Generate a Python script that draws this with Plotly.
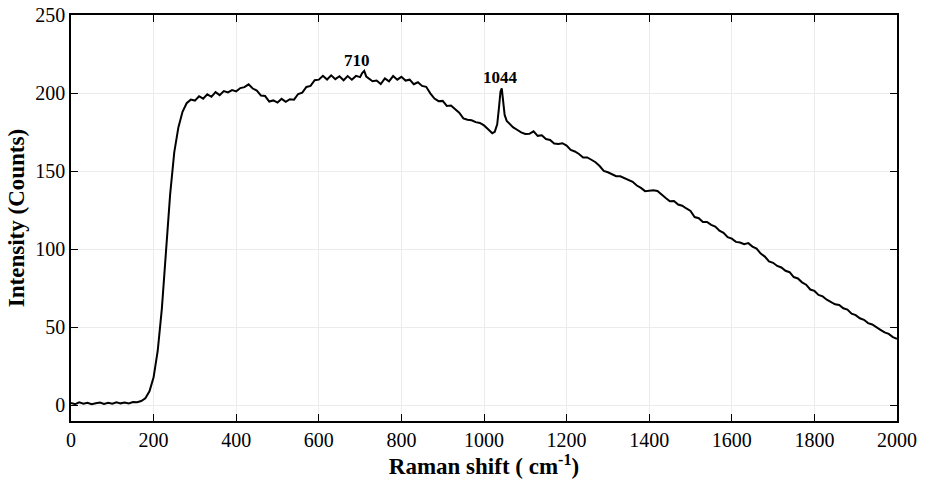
import plotly.graph_objects as go

raman_shift = [0, 10, 20, 30, 40, 50, 60, 70, 80, 90, 100, 110, 120, 130, 140, 150, 160, 170,
               180, 190, 200, 210, 220, 230, 240, 250, 260, 270, 280, 290, 300, 310, 320, 330, 340,
               350, 360, 370, 380, 390, 400, 410, 420, 430, 440, 450, 460, 470, 480, 490, 500,
               510, 520, 530, 540, 550, 560, 570, 580, 590, 600, 610, 620, 630, 640, 650, 660,
               670, 680, 690, 700, 705, 710, 715, 720, 730, 740, 750, 760, 770, 780, 790, 800, 810,
               820, 830, 840, 850, 860, 870, 880, 890, 900, 910, 920, 930, 940, 950, 960, 970,
               980, 990, 1000, 1010, 1020, 1026, 1032, 1036, 1040, 1043, 1046, 1050, 1055, 1060,
               1070, 1080, 1090, 1100, 1110, 1120, 1130, 1140, 1150, 1160, 1170, 1180, 1190,
               1200, 1210, 1220, 1230, 1240, 1250, 1260, 1270, 1280, 1290, 1300, 1310, 1320,
               1330, 1340, 1350, 1360, 1370, 1380, 1390, 1400, 1410, 1420, 1430, 1440, 1450,
               1460, 1470, 1480, 1490, 1500, 1510, 1520, 1530, 1540, 1550, 1560, 1570, 1580,
               1590, 1600, 1610, 1620, 1630, 1640, 1650, 1660, 1670, 1680, 1690, 1700, 1710,
               1720, 1730, 1740, 1750, 1760, 1770, 1780, 1790, 1800, 1810, 1820, 1830, 1840,
               1850, 1860, 1870, 1880, 1890, 1900, 1910, 1920, 1930, 1940, 1950, 1960, 1970,
               1980, 1990, 2000]

intensity = [1.5, 0.8, 1.9, 1.0, 1.6, 0.7, 1.4, 1.8, 0.9, 1.6, 1.1, 2.0, 1.3, 1.9, 1.2, 2.2, 2.0, 2.8,
             4.5, 9.0, 18.0, 35.0, 62.0, 98.0, 135.0, 162.0, 178.0, 188.0, 193.5, 195.8, 195.2, 198.0, 196.4, 199.2, 197.6,
             200.6, 198.7, 201.3, 200.4, 201.9, 201.1, 203.2, 203.8, 205.6, 202.9, 201.6, 198.4, 198.1, 194.6, 195.3, 193.9,
             196.3, 194.4, 196.1, 195.8, 199.4, 200.3, 203.9, 204.6, 208.2, 208.6, 211.1, 208.7, 211.4, 208.9, 210.8, 208.2,
             210.9, 208.6, 211.0, 210.2, 212.8, 214.2, 210.5, 209.6, 207.6, 208.0, 205.8, 209.4, 207.5, 210.9, 208.6, 210.4, 208.0,
             208.6, 205.7, 206.9, 204.6, 204.0, 199.8, 196.5, 194.8, 195.0, 191.8, 192.0, 189.6, 187.4, 183.8, 182.9, 182.6,
             181.4, 180.9, 179.3, 176.8, 174.3, 175.2, 180.0, 190.0, 201.0, 203.0, 196.0, 186.0, 182.2, 180.8,
             178.2, 176.5, 174.8, 173.8, 173.9, 175.5, 172.6, 173.0, 170.6, 170.0, 167.7, 167.4, 167.9,
             166.4, 163.6, 162.6, 161.0, 158.8, 158.8, 157.3, 155.7, 153.3, 150.2, 149.3, 147.8, 146.8,
             146.7, 145.4, 144.2, 143.2, 140.8, 139.3, 137.2, 137.3, 137.7, 137.3, 134.8, 132.8, 130.7,
             130.9, 128.6, 127.9, 126.1, 124.5, 120.6, 119.9, 117.5, 117.5, 115.6, 114.5, 111.9, 110.5,
             107.7, 106.8, 104.7, 104.3, 103.2, 103.9, 101.7, 100.4, 97.2, 95.3, 92.2, 91.3, 89.3,
             88.3, 86.2, 85.3, 82.2, 81.3, 78.8, 77.3, 74.2, 73.3, 70.7, 69.8, 67.7, 66.3,
             64.7, 64.3, 62.2, 61.3, 58.7, 57.8, 55.8, 54.8, 52.7, 51.8, 49.8, 48.4, 46.7,
             45.8, 43.7, 42.6]

peak_labels = ["710", "1044"]
peak_label_x = [692, 1039]
peak_label_y = [221, 210]

fig = go.Figure()
fig.add_trace(go.Scatter(x=raman_shift, y=intensity, mode="lines",
                         line=dict(color="black", width=2), showlegend=False))

for t, px, py in zip(peak_labels, peak_label_x, peak_label_y):
    fig.add_annotation(x=px, y=py, text="<b>%s</b>" % t, showarrow=False,
                       font=dict(family="Liberation Serif", size=17, color="black"))

axis_common = dict(showline=True, linecolor="black", linewidth=1.5, mirror="ticks",
                   ticks="inside", ticklen=7, tickwidth=1.2, tickcolor="black",
                   showgrid=True, gridcolor="#ececec", gridwidth=1, zeroline=False,
                   automargin=False,
                   tickfont=dict(family="Liberation Serif", size=20, color="black"))

fig.update_xaxes(range=[0, 2000], tickvals=list(range(0, 2001, 200)),
                 title=dict(text="<b>Raman shift ( cm<sup>-1</sup>)</b>",
                            font=dict(family="Liberation Serif", size=23, color="black"),
                            standoff=8),
                 **axis_common)
fig.update_yaxes(range=[-10, 250], tickvals=list(range(0, 251, 50)),
                 title=dict(text="<b>Intensity (Counts)</b>",
                            font=dict(family="Liberation Serif", size=23, color="black"),
                            standoff=4),
                 **axis_common)

fig.update_layout(width=925, height=487, margin=dict(l=71, r=28, t=15, b=66),
                  plot_bgcolor="white", paper_bgcolor="white")

fig.write_html("out.html")
